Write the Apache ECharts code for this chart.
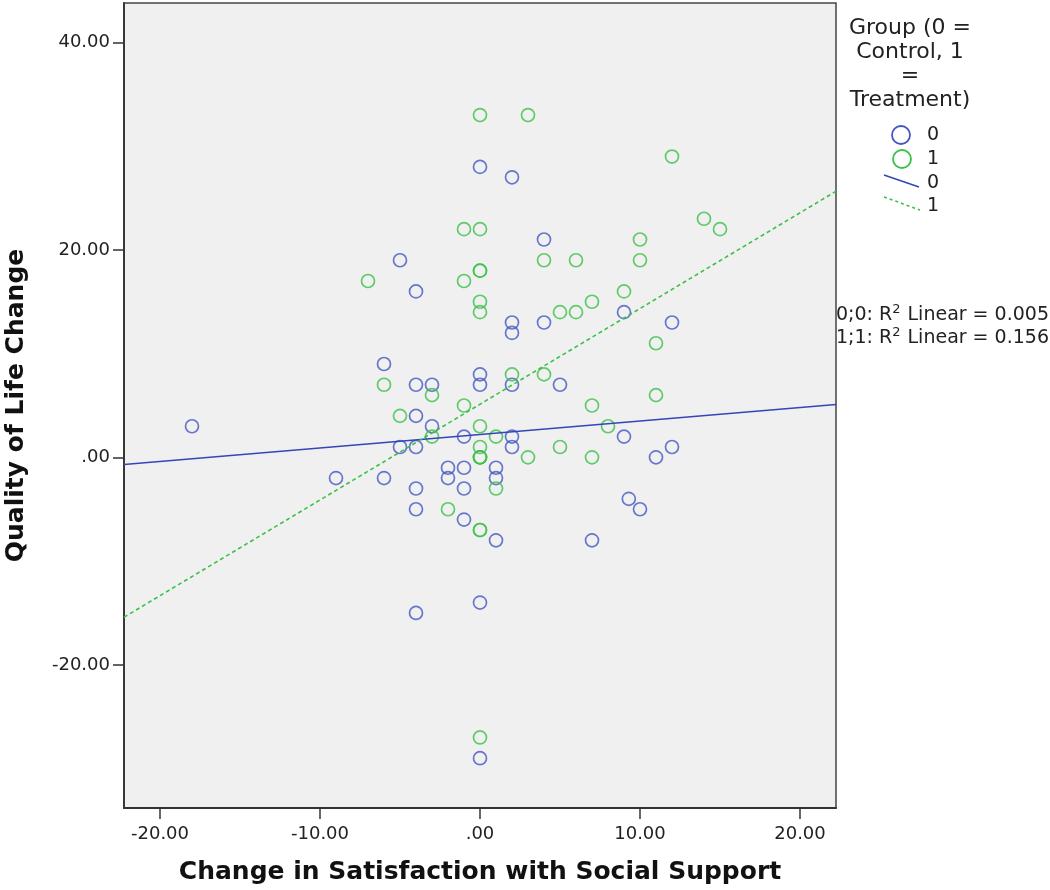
<!DOCTYPE html>
<html>
<head>
<meta charset="utf-8">
<script src="https://cdn.jsdelivr.net/npm/echarts@6/dist/echarts.min.js"></script>
<style>
html,body{margin:0;padding:0;background:#fff;}
#chart{width:1050px;height:890px;}
</style>
</head>
<body>
<div id="chart"></div>
<script>
// Group 0 = Control (blue)
const group0 = [[-18,3],[-9,-2],[-6,9],[-6,-2],[-5,19],[-5,1],[-4,16],[-4,7],[-4,4],[-4,1],[-4,-3],[-4,-5],[-4,-15],
  [-3,7],[-3,3],[-2,-1],[-2,-2],[-1,2],[-1,-1],[-1,-3],[-1,-6],[0,28],[0,8],[0,7],[0,-14],[0,-29],
  [1,-1],[1,-2],[1,-8],[2,27],[2,13],[2,12],[2,7],[2,2],[2,1],[4,21],[4,13],[5,7],[7,-8],
  [9,14],[9,2],[9.3,-4],[10,-5],[11,0],[12,13],[12,1]];
// Group 1 = Treatment (green)
const group1 = [[-7,17],[-6,7],[-5,4],[-3,6],[-3,2],[-2,-5],[-1,22],[-1,17],[-1,5],[0,33],[0,22],[0,18],[0,18],
  [0,15],[0,14],[0,3],[0,1],[0,0],[0,0],[0,0],[0,-7],[0,-7],[0,-27],[1,2],[1,-3],[2,8],[3,33],[3,0],
  [4,19],[4,8],[5,14],[5,1],[6,19],[6,14],[7,15],[7,5],[7,0],[8,3],[9,16],[10,21],[10,19],
  [11,11],[11,6],[12,29],[14,23],[15,22]];
// Fit line endpoints
const fit0 = [[-22.25,-0.69],[22.25,5.09]];
const fit1 = [[-22.25,-15.41],[22.25,25.65]];
const xTicks = [-20,-10,0,10,20];
const yTicks = [-20,0,20,40];
const r2Labels = ['0;0', '1;1'];
const r2Values = ['0.005', '0.156'];
const legendTitle = 'Group (0 =\nControl, 1\n=\nTreatment)';

const BLUE = '#4357c2';
const BLUE_LINE = '#3446b8';
const GREEN = '#3cc048';
const FONT = '"DejaVu Sans", sans-serif';

function fmt(v){ return v === 0 ? '.00' : v.toFixed(2); }

const r2Rich = {
  a: {fontFamily: FONT, fontSize: 19, fill: '#222'},
  s: {fontFamily: FONT, fontSize: 13, fill: '#222', verticalAlign: 'top', padding: [0,1,10,0]}
};

const chart = echarts.init(document.getElementById('chart'));
chart.setOption({
  animation: false,
  backgroundColor: '#ffffff',
  grid: {left: 124, right: 214, top: 3, bottom: 82, show: true, containLabel: false,
    outerBoundsMode: 'none',
    backgroundColor: '#f0f0f0', borderColor: '#444', borderWidth: 1.5},
  xAxis: {
    type: 'value', min: -22.25, max: 22.25,
    name: 'Change in Satisfaction with Social Support', nameLocation: 'middle', nameGap: 52,
    nameTextStyle: {fontFamily: FONT, fontWeight: 'bold', fontSize: 25, color: '#111'},
    axisLine: {show: true, onZero: false, lineStyle: {color: '#333', width: 1.8}},
    axisTick: {show: true, inside: false, length: 11, lineStyle: {color: '#333', width: 1.5}, customValues: xTicks},
    axisLabel: {fontFamily: FONT, fontSize: 18, color: '#222', margin: 17, customValues: xTicks, formatter: fmt},
    splitLine: {show: false}
  },
  yAxis: {
    type: 'value', min: -33.8, max: 43.8,
    name: 'Quality of Life Change', nameLocation: 'middle', nameGap: 95, nameRotate: 90,
    nameTextStyle: {fontFamily: FONT, fontWeight: 'bold', fontSize: 25, color: '#111'},
    axisLine: {show: true, onZero: false, lineStyle: {color: '#333', width: 1.8}},
    axisTick: {show: true, inside: false, length: 11, lineStyle: {color: '#333', width: 1.5}, customValues: yTicks},
    axisLabel: {fontFamily: FONT, fontSize: 18, color: '#222', margin: 14, customValues: yTicks, formatter: fmt},
    splitLine: {show: false}
  },
  series: [
    {name: '0', type: 'scatter', data: group0, symbol: 'circle', symbolSize: 13,
      itemStyle: {color: 'rgba(0,0,0,0)', borderColor: BLUE, borderWidth: 1.7}, z: 3},
    {name: '1', type: 'scatter', data: group1, symbol: 'circle', symbolSize: 13,
      itemStyle: {color: 'rgba(0,0,0,0)', borderColor: GREEN, borderWidth: 1.7}, z: 3},
    {name: 'fit0', type: 'line', data: fit0, showSymbol: false, symbol: 'none',
      lineStyle: {color: BLUE_LINE, width: 1.4}, z: 4},
    {name: 'fit1', type: 'line', data: fit1, showSymbol: false, symbol: 'none',
      lineStyle: {color: GREEN, width: 1.6, type: [4,3]}, z: 4}
  ],
  graphic: [
    {type: 'text', x: 910, y: 16, style: {text: legendTitle, fontFamily: FONT, fontSize: 22,
      fill: '#222', align: 'center', verticalAlign: 'top', lineHeight: 24}},
    {type: 'circle', shape: {cx: 901, cy: 135, r: 9}, style: {fill: 'none', stroke: BLUE, lineWidth: 1.8}},
    {type: 'text', x: 927, y: 135, style: {text: '0', fontFamily: FONT, fontSize: 19, fill: '#222', verticalAlign: 'middle'}},
    {type: 'circle', shape: {cx: 902, cy: 159, r: 9}, style: {fill: 'none', stroke: GREEN, lineWidth: 1.8}},
    {type: 'text', x: 927, y: 159, style: {text: '1', fontFamily: FONT, fontSize: 19, fill: '#222', verticalAlign: 'middle'}},
    {type: 'line', shape: {x1: 884, y1: 175, x2: 919, y2: 187}, style: {stroke: BLUE_LINE, lineWidth: 1.5}},
    {type: 'text', x: 927, y: 183, style: {text: '0', fontFamily: FONT, fontSize: 19, fill: '#222', verticalAlign: 'middle'}},
    {type: 'line', shape: {x1: 884, y1: 197, x2: 920, y2: 210}, style: {stroke: GREEN, lineWidth: 1.6, lineDash: [3,3]}},
    {type: 'text', x: 927, y: 206, style: {text: '1', fontFamily: FONT, fontSize: 19, fill: '#222', verticalAlign: 'middle'}},
    {type: 'text', x: 836, y: 315, style: {
      text: '{a|' + r2Labels[0] + ': R}{s|2}{a| Linear = ' + r2Values[0] + '}',
      verticalAlign: 'middle', rich: r2Rich}},
    {type: 'text', x: 836, y: 338, style: {
      text: '{a|' + r2Labels[1] + ': R}{s|2}{a| Linear = ' + r2Values[1] + '}',
      verticalAlign: 'middle', rich: r2Rich}}
  ]
});
</script>
</body>
</html>
